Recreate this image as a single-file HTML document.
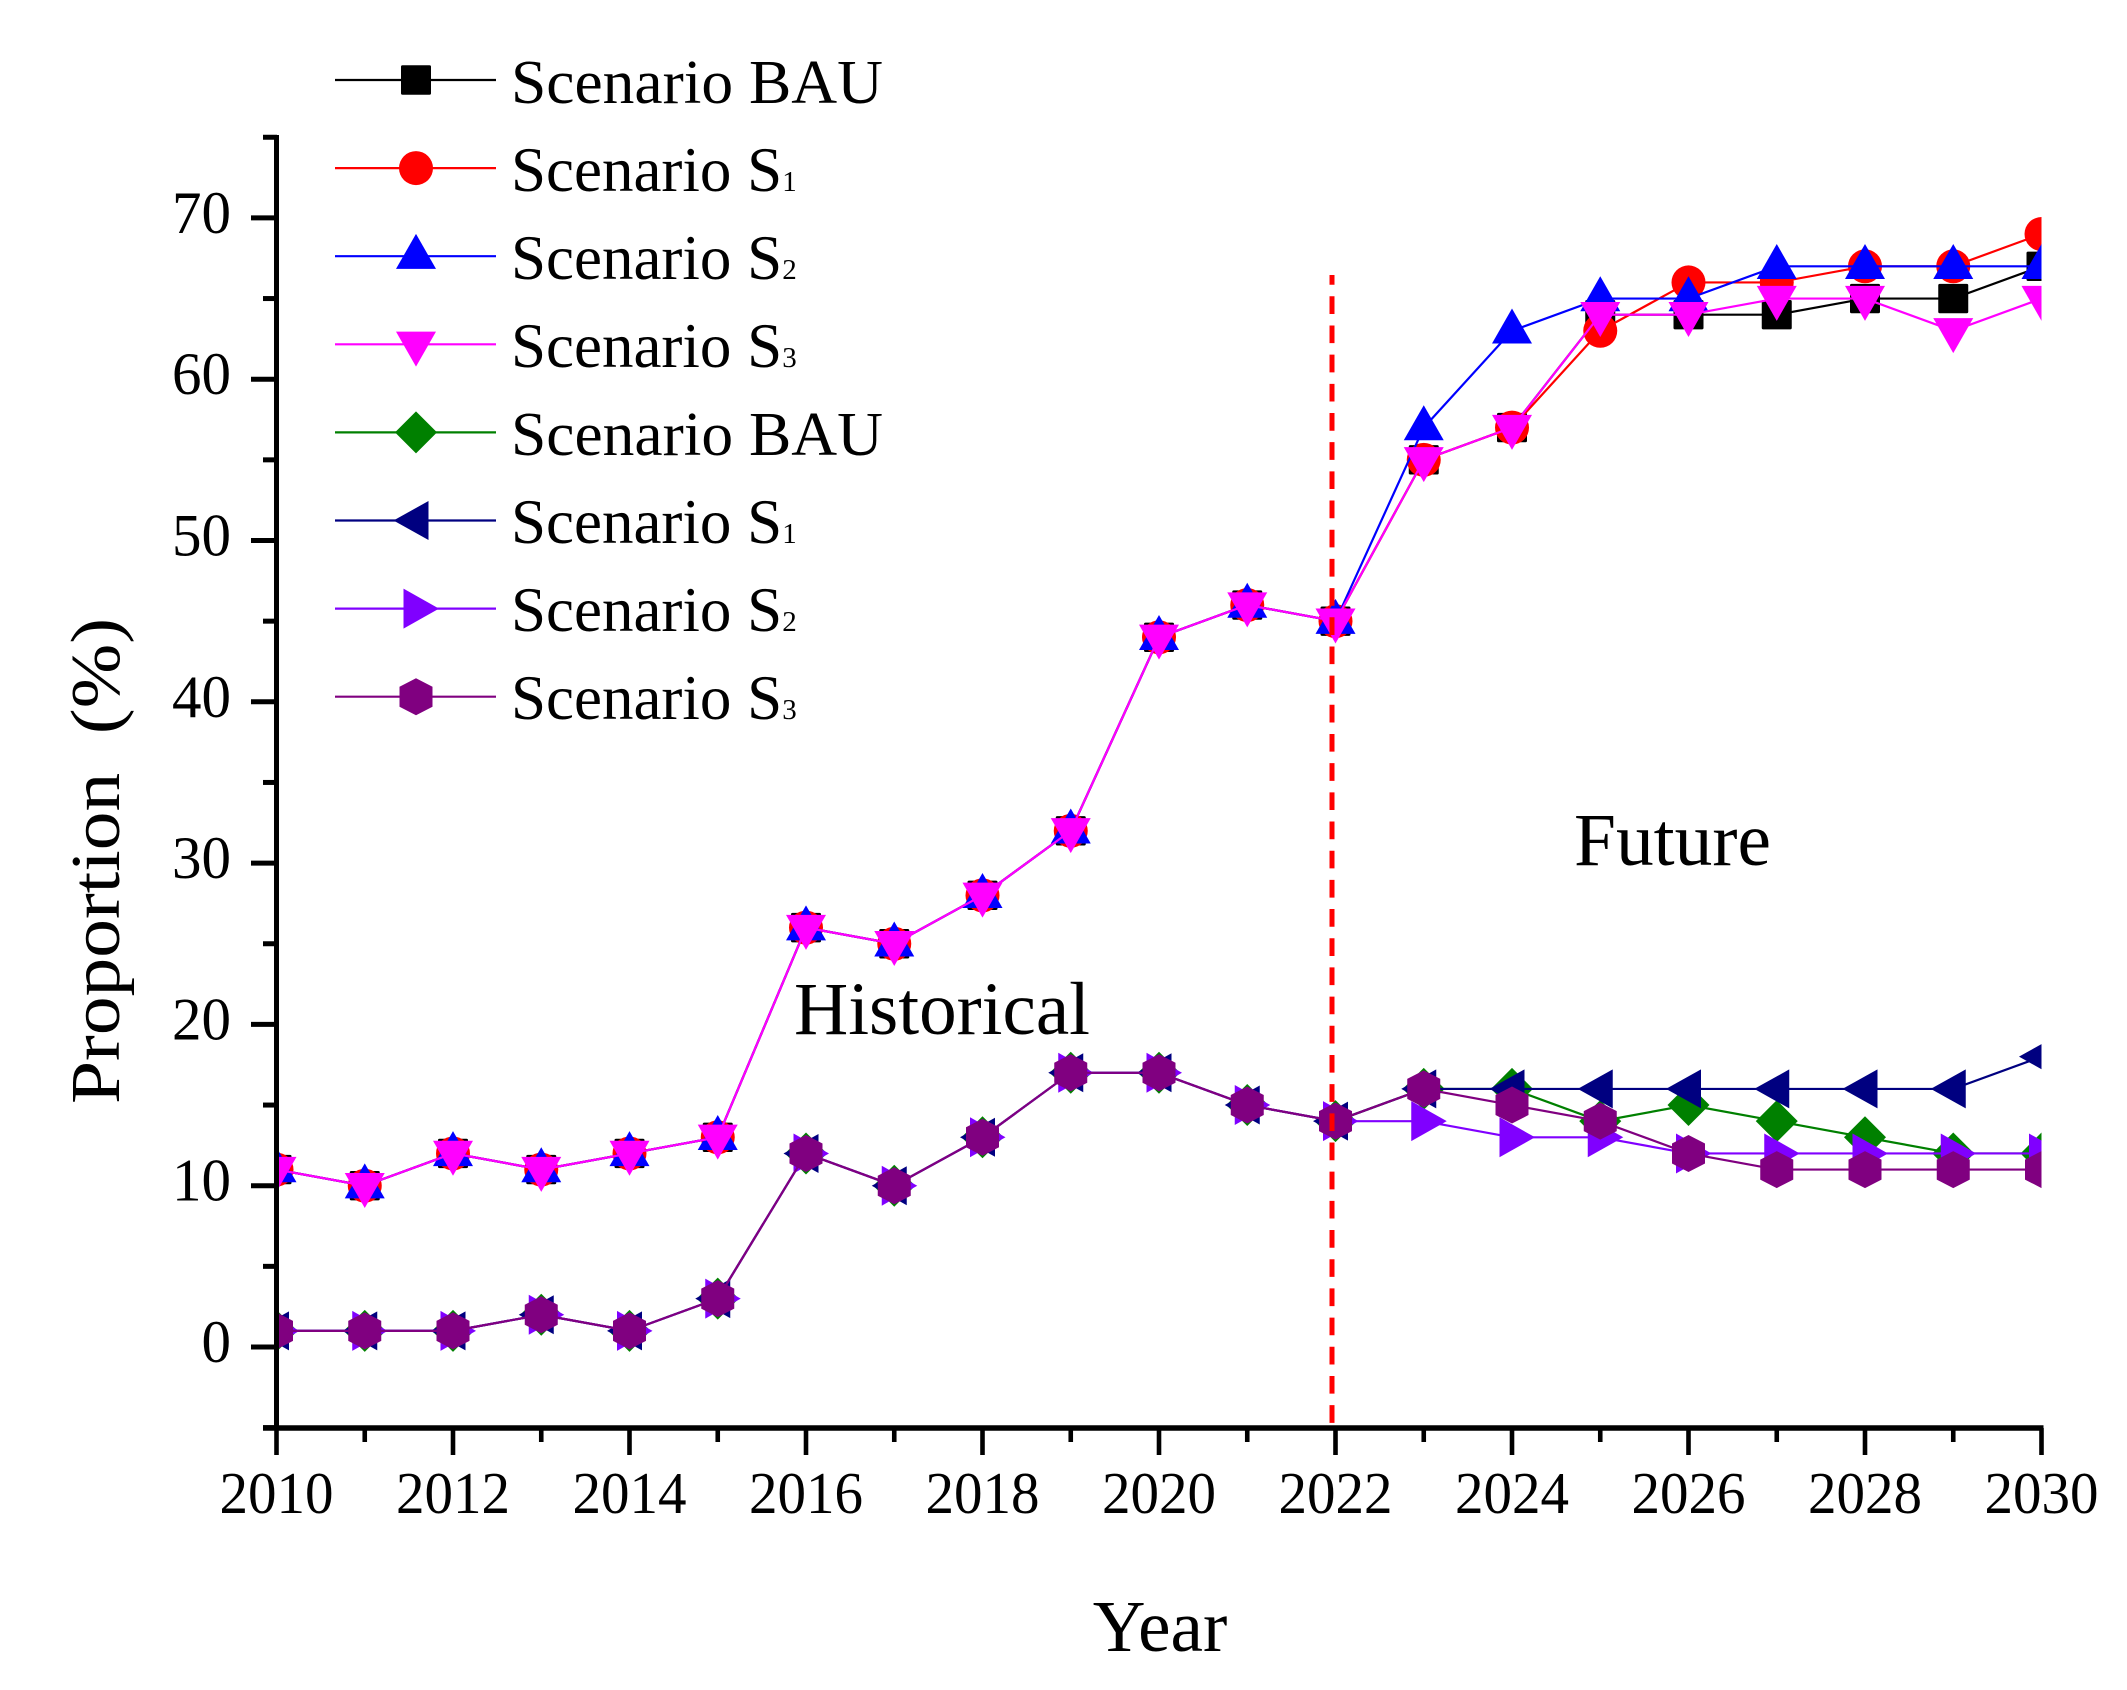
<!DOCTYPE html>
<html lang="en">
<head>
<meta charset="utf-8">
<title>Proportion by scenario</title>
<style>
html,body{margin:0;padding:0;background:#fff;}
svg{display:block;}
text{font-family:"Liberation Serif",serif;fill:#000;}
</style>
</head>
<body>
<svg id="chart" xmlns="http://www.w3.org/2000/svg" width="2127" height="1690" viewBox="0 0 2127 1690">
  <defs>
    <clipPath id="plot-clip"><rect x="276" y="100" width="1765.5" height="1328"/></clipPath>
  </defs>
  <rect x="0" y="0" width="2127" height="1690" fill="#fff"/>
  <g id="series-layer" clip-path="url(#plot-clip)"></g>
  <line x1="1332" y1="275" x2="1332" y2="1428" stroke="#ff0000" stroke-width="5" stroke-dasharray="17.7 11.48" stroke-dashoffset="7.9"/>
  <g id="axis-layer"></g>

  <text x="1160" y="1651" font-size="73" text-anchor="middle">Year</text>
  <text transform="translate(119,1104) rotate(-90)" font-size="70" textLength="486" lengthAdjust="spacingAndGlyphs">Proportion&#160;&#160;(%)</text>
  <text x="794" y="1034" font-size="75" textLength="296" lengthAdjust="spacingAndGlyphs">Historical</text>
  <text x="1574" y="865" font-size="75" textLength="197" lengthAdjust="spacingAndGlyphs">Future</text>

  <g id="legend-layer">
    <text x="511" y="103" font-size="62" textLength="372" lengthAdjust="spacingAndGlyphs">Scenario BAU</text>
    <text x="511" y="191" font-size="63">Scenario S<tspan font-size="29">1</tspan></text>
    <text x="511" y="279" font-size="63">Scenario S<tspan font-size="29">2</tspan></text>
    <text x="511" y="367" font-size="63">Scenario S<tspan font-size="29">3</tspan></text>
    <text x="511" y="455" font-size="62" textLength="372" lengthAdjust="spacingAndGlyphs">Scenario BAU</text>
    <text x="511" y="543" font-size="63">Scenario S<tspan font-size="29">1</tspan></text>
    <text x="511" y="631" font-size="63">Scenario S<tspan font-size="29">2</tspan></text>
    <text x="511" y="719" font-size="63">Scenario S<tspan font-size="29">3</tspan></text>
  </g>
</svg>
<script>
var years = [2010,2011,2012,2013,2014,2015,2016,2017,2018,2019,2020,2021,2022,2023,2024,2025,2026,2027,2028,2029,2030];
var xTickLabels = [2010,2012,2014,2016,2018,2020,2022,2024,2026,2028,2030];
var xMinorTicks = [2011,2013,2015,2017,2019,2021,2023,2025,2027,2029];
var yTickLabels = [0,10,20,30,40,50,60,70];
var yMinorTicks = [-5,5,15,25,35,45,55,65,75];

var upperBAU = [11,10,12,11,12,13,26,25,28,32,44,46,45,55,57,64,64,64,65,65,67];
var upperS1  = [11,10,12,11,12,13,26,25,28,32,44,46,45,55,57,63,66,66,67,67,69];
var upperS2  = [11,10,12,11,12,13,26,25,28,32,44,46,45,57,63,65,65,67,67,67,67];
var upperS3  = [11,10,12,11,12,13,26,25,28,32,44,46,45,55,57,64,64,65,65,63,65];
var lowerBAU = [1,1,1,2,1,3,12,10,13,17,17,15,14,16,16,14,15,14,13,12,12];
var lowerS1  = [1,1,1,2,1,3,12,10,13,17,17,15,14,16,16,16,16,16,16,16,18];
var lowerS2  = [1,1,1,2,1,3,12,10,13,17,17,15,14,14,13,13,12,12,12,12,12];
var lowerS3  = [1,1,1,2,1,3,12,10,13,17,17,15,14,16,15,14,12,11,11,11,11];

var seriesList = [
  {key:'upper-bau', values:upperBAU, color:'#000000', marker:'square'},
  {key:'upper-s1',  values:upperS1,  color:'#ff0000', marker:'circle'},
  {key:'upper-s2',  values:upperS2,  color:'#0000ff', marker:'triangle-up'},
  {key:'upper-s3',  values:upperS3,  color:'#ff00ff', marker:'triangle-down'},
  {key:'lower-bau', values:lowerBAU, color:'#008000', marker:'diamond'},
  {key:'lower-s1',  values:lowerS1,  color:'#000080', marker:'triangle-left'},
  {key:'lower-s2',  values:lowerS2,  color:'#8000ff', marker:'triangle-right'},
  {key:'lower-s3',  values:lowerS3,  color:'#800080', marker:'hexagon'}
];

var NS = 'http://www.w3.org/2000/svg';

function xScale(year){ return 276.5 + (year - 2010) * 88.25; }
function yScale(v){ return 1347 - v * 16.13; }

function make(tag, attrs, parent){
  var el = document.createElementNS(NS, tag);
  for (var k in attrs) { el.setAttribute(k, attrs[k]); }
  parent.appendChild(el);
  return el;
}

function markerShape(kind, cx, cy, color, parent){
  var el;
  if (kind === 'square') {
    el = make('rect', {x:cx-15, y:cy-14.7, width:30, height:29.4, rx:1.5, fill:color}, parent);
  } else if (kind === 'circle') {
    el = make('circle', {cx:cx, cy:cy, r:17, fill:color}, parent);
  } else {
    var pts;
    if (kind === 'triangle-up') pts = [[0,-22.3],[20,12.7],[-20,12.7]];
    if (kind === 'triangle-down') pts = [[0,22.3],[20,-12.7],[-20,-12.7]];
    if (kind === 'diamond') pts = [[0,-21],[21,0],[0,21],[-21,0]];
    if (kind === 'triangle-left') pts = [[-22.5,0],[12.5,-19.5],[12.5,19.5]];
    if (kind === 'triangle-right') pts = [[23,0],[-12.5,-20],[-12.5,20]];
    if (kind === 'hexagon') pts = [[0,-18.5],[16.5,-10],[16.5,10],[0,18.5],[-16.5,10],[-16.5,-10]];
    var s = pts.map(function(p){ return (cx+p[0]) + ',' + (cy+p[1]); }).join(' ');
    el = make('polygon', {points:s, fill:color}, parent);
  }
  return el;
}

var seriesLayer = document.getElementById('series-layer');
seriesList.forEach(function(series){
  var group = make('g', {}, seriesLayer);
  
  
  var pts = series.values.map(function(v, i){ return xScale(years[i]) + ',' + yScale(v); }).join(' ');
  var line = make('polyline', {points:pts, fill:'none', stroke:series.color, 'stroke-width':2.2}, group);
  
  
  series.values.forEach(function(v, i){
    var m = markerShape(series.marker, xScale(years[i]), yScale(v), series.color, group);
    
    
  });
});

var axisLayer = document.getElementById('axis-layer');
var yAxisLine = make('line', {x1:276.5, y1:135, x2:276.5, y2:1430.5, stroke:'#000', 'stroke-width':5}, axisLayer);


var xAxisLine = make('line', {x1:263, y1:1428, x2:2043.5, y2:1428, stroke:'#000', 'stroke-width':5.5}, axisLayer);



yTickLabels.forEach(function(v){
  var y = yScale(v);
  var tick = make('line', {x1:251, y1:y, x2:277, y2:y, stroke:'#000', 'stroke-width':5}, axisLayer);
  
  
  var label = make('text', {x:231, y:y+15, 'font-size':60, 'text-anchor':'end', textLength:String(v).length*29.5, lengthAdjust:'spacingAndGlyphs'}, axisLayer);
  label.textContent = String(v);
  
  
});
yMinorTicks.forEach(function(v){
  var y = yScale(v);
  var tick = make('line', {x1:263, y1:y, x2:277, y2:y, stroke:'#000', 'stroke-width':5}, axisLayer);
  
  
});
xTickLabels.forEach(function(year){
  var x = xScale(year);
  var tick = make('line', {x1:x, y1:1428, x2:x, y2:1455, stroke:'#000', 'stroke-width':4.6}, axisLayer);
  
  
  var label = make('text', {x:x, y:1513, 'font-size':59, 'text-anchor':'middle', textLength:114, lengthAdjust:'spacingAndGlyphs'}, axisLayer);
  label.textContent = String(year);
  
  
});
xMinorTicks.forEach(function(year){
  var x = xScale(year);
  var tick = make('line', {x1:x, y1:1428, x2:x, y2:1442, stroke:'#000', 'stroke-width':4.6}, axisLayer);
  
  
});

var legendLayer = document.getElementById('legend-layer');
seriesList.forEach(function(series, i){
  var rowY = 80 + i * 88.1;
  var handle = make('line', {x1:335, y1:rowY, x2:496, y2:rowY, stroke:series.color, 'stroke-width':2.2}, legendLayer);
  
  
  var m = markerShape(series.marker, 416, rowY, series.color, legendLayer);
  
  
});
</script>
</body>
</html>
